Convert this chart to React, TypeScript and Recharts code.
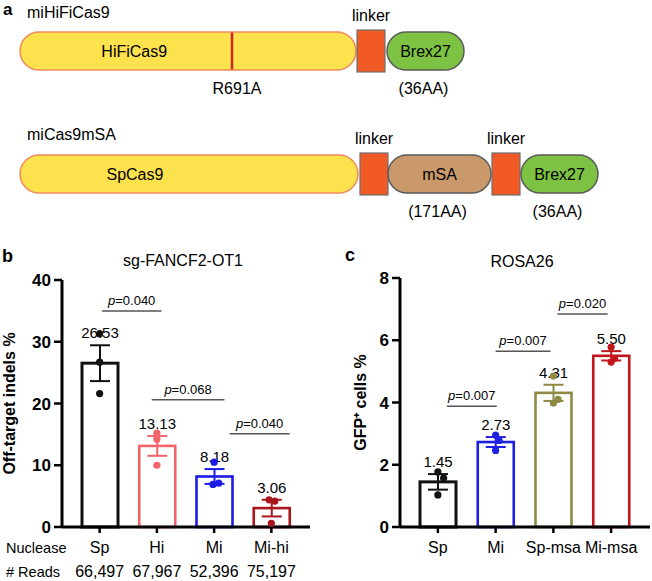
import React from "react";
import {
  BarChart,
  Bar,
  XAxis,
  YAxis,
  ComposedChart,
  Scatter,
  ReferenceLine,
} from "recharts";

const FONT = '"Liberation Sans", Arial, Helvetica, sans-serif';

// ---- panel a: constructs, schematic segment lengths stacked left to right
const segmentKeys = ["cas9", "gap1", "linker1", "msa", "gap2", "linker2", "gap3", "brex"];
const segmentKinds = ["cas9", "gap", "linker", "msa", "gap", "linker", "gap", "brex"];
const miHiFiLengths = [336, 1, 28, 0, 0, 0, 2, 77];
const miMsaLengths = [338, 2, 28, 103, 1, 28, 1, 77];
const miHiFiNames = ["HiFiCas9", "", "linker", "", "", "", "", "Brex27"];
const miMsaNames = ["SpCas9", "", "linker", "mSA", "", "linker", "", "Brex27"];
const miHiFiSizes = ["", "", "", "", "", "", "", "(36AA)"];
const miMsaSizes = ["", "", "", "(171AA)", "", "", "", "(36AA)"];
const hifiMutation = { label: "R691A", position: 212 };

// ---- panel b: sg-FANCF2-OT1 off-target indels
const nucleaseNames = ["Sp", "Hi", "Mi", "Mi-hi"];
const readCounts = ["66,497", "67,967", "52,396", "75,197"];
const offTargetMeans = [26.53, 13.13, 8.18, 3.06];
const offTargetSems = [2.9, 1.6, 1.2, 1.35];
const offTargetReplicates = [
  [31.3, 26.7, 21.6],
  [15.2, 14.2, 10.0],
  [10.5, 7.1, 6.9],
  [4.4, 4.2, 0.6],
];
const offTargetJitter = [
  [0, 0, 0],
  [0, 0, 0],
  [0, 0.08, -0.02],
  [-0.04, 0.06, 0],
];
const offTargetPValues = ["0.040", "0.068", "0.040"];
const offTargetPFrom = [0.54, 1.41, 2.77];
const offTargetPTo = [1.58, 2.68, 3.82];
const offTargetPHeight = [35.0, 20.6, 15.1];
const offTargetColors = ["#111111", "#F2646C", "#1C1CE6", "#A8161B"];

// ---- panel c: ROSA26 GFP+ cells
const rosaNames = ["Sp", "Mi", "Sp-msa", "Mi-msa"];
const gfpMeans = [1.45, 2.73, 4.31, 5.5];
const gfpSems = [0.25, 0.16, 0.26, 0.15];
const gfpReplicates = [
  [1.77, 1.57, 1.03],
  [2.95, 2.78, 2.46],
  [4.85, 4.1, 3.98],
  [5.78, 5.42, 5.3],
];
const gfpJitter = [
  [0, 0.1, 0],
  [0, 0.06, 0],
  [0, 0.08, 0],
  [0, 0.06, 0],
];
const gfpPValues = ["0.007", "0.007", "0.020"];
const gfpPFrom = [0.655, 1.5, 2.57];
const gfpPTo = [1.52, 2.45, 3.44];
const gfpPHeight = [3.88, 5.65, 6.84];
const gfpColors = ["#111111", "#2020E0", "#8E8A44", "#C2161C"];

const Segment = (props: any) => {
  const { x, y, width, height, kind, caption, note, length, mutation } = props;
  if (!width || width <= 0 || kind === "gap") return null;
  const cy = y + height / 2;
  const cx = x + width / 2;
  if (kind === "linker") {
    return (
      <g>
        <rect x={x} y={y - 2} width={width} height={height + 4} fill="#F15A24" stroke="#6D6E71" strokeWidth={1.2} />
        <text x={cx} y={cy - 30} textAnchor="middle" fontSize={16} fill="#000">
          {caption}
        </text>
      </g>
    );
  }
  const fill = kind === "cas9" ? "#FDE14D" : kind === "msa" ? "#C9996C" : "#7DC242";
  const stroke = kind === "cas9" ? "#EF8A5E" : "#5A5A5A";
  const textX = kind === "cas9" ? x + width * 0.34 : cx;
  let mark = null;
  if (mutation) {
    const mx = x + (mutation.position * width) / length;
    mark = (
      <g>
        <line x1={mx} x2={mx} y1={y + 0.5} y2={y + height - 0.5} stroke="#C1272D" strokeWidth={2.5} />
        <text x={mx + 5} y={cy + 43} textAnchor="middle" fontSize={16} fill="#000">
          {mutation.label}
        </text>
      </g>
    );
  }
  return (
    <g>
      <rect x={x} y={y} width={width} height={height} rx={height / 2} ry={height / 2} fill={fill} stroke={stroke} strokeWidth={1.5} />
      {mark}
      <text x={textX} y={cy + 5.7} textAnchor="middle" fontSize={16} fill="#000">
        {caption}
      </text>
      {note ? (
        <text x={cx - 2} y={cy + 43} textAnchor="middle" fontSize={16} fill="#000">
          {note}
        </text>
      ) : null}
    </g>
  );
};

const ConstructRow = ({ lengths, names, sizes, mutation }: any) => {
  const row: Record<string, any> = { row: "construct" };
  segmentKeys.forEach((k, i) => (row[k] = lengths[i]));
  return (
    <BarChart
      layout="vertical"
      width={652}
      height={100}
      data={[row]}
      margin={{ top: 0, right: 0, bottom: 0, left: 20 }}
      barSize={38}
    >
      <XAxis type="number" domain={[0, 632]} hide />
      <YAxis type="category" dataKey="row" hide />
      {segmentKeys.map((k, i) => (
        <Bar
          key={k}
          dataKey={k}
          stackId="c"
          isAnimationActive={false}
          shape={(p: any) => (
            <Segment
              {...p}
              kind={segmentKinds[i]}
              caption={names[i]}
              note={sizes[i]}
              length={lengths[i]}
              mutation={i === 0 ? mutation : undefined}
            />
          )}
        />
      ))}
    </BarChart>
  );
};

const MeanBar = (props: any) => {
  const { x, y, width, height, index, payload, colors } = props;
  const color = colors[index];
  const k = height / payload.mean;
  const top = y - payload.sem * k;
  const bot = y + payload.sem * k;
  const cx = x + width / 2;
  return (
    <g>
      <rect x={x} y={y} width={width} height={height} fill="none" stroke={color} strokeWidth={index === 0 ? 3 : 2.6} />
      <line x1={cx} x2={cx} y1={top} y2={bot} stroke={color} strokeWidth={2} />
      <line x1={cx - 10} x2={cx + 10} y1={top} y2={top} stroke={color} strokeWidth={2} />
      <line x1={cx - 10} x2={cx + 10} y1={bot} y2={bot} stroke={color} strokeWidth={2} />
      <text x={cx} y={top - 7} textAnchor="middle" fontSize={15} fill="#000">
        {payload.mean.toFixed(2)}
      </text>
    </g>
  );
};

const PLabel = (props: any) => {
  const vb = props.viewBox || {};
  if (vb.x == null) return null;
  return (
    <text x={vb.x + (vb.width || 0) / 2} y={vb.y - 6} textAnchor="middle" fontSize={13} fill="#000">
      <tspan fontStyle="italic">p</tspan>={props.text}
    </text>
  );
};

const GroupTick = (props: any) => {
  const { x, y, payload, extra } = props;
  return (
    <g>
      <text x={x} y={y + 18} textAnchor="middle" fontSize={16} fill="#000">
        {payload.value}
      </text>
      {extra ? (
        <text x={x} y={y + 42} textAnchor="middle" fontSize={16} fill="#000">
          {extra[payload.index]}
        </text>
      ) : null}
    </g>
  );
};

const DotGlyph = (props: any) => {
  const { cx, cy, payload, colors } = props;
  if (cx == null || cy == null) return null;
  return <circle cx={cx} cy={cy} r={3.6} fill={colors[payload.group]} />;
};

const GroupPanel = (props: any) => {
  const {
    names, means, sems, reps, jitter, pValues, pFrom, pTo, pHeight, colors,
    width, yWidth, yMax, yTicks, yLabel, labelOffset, marginTop, marginRight, extra,
  } = props;
  const data = names.map((name: string, i: number) => ({ name, mean: means[i], sem: sems[i] }));
  const dots: any[] = [];
  reps.forEach((vals: number[], g: number) =>
    vals.forEach((v, j) => dots.push({ x: g + 0.5 + jitter[g][j], y: v, group: g }))
  );
  const axisPad = { left: 9, right: 10 };
  return (
    <ComposedChart
      width={width}
      height={331}
      data={data}
      margin={{ top: marginTop, right: marginRight, bottom: 0, left: 0 }}
    >
      <XAxis
        xAxisId="cat"
        dataKey="name"
        height={54}
        padding={axisPad}
        interval={0}
        tickSize={6}
        tickMargin={2}
        axisLine={{ stroke: "#000", strokeWidth: 3 }}
        tickLine={{ stroke: "#000", strokeWidth: 2.5 }}
        tick={<GroupTick extra={extra} />}
      />
      <XAxis xAxisId="num" type="number" dataKey="x" domain={[0, 4]} hide padding={axisPad} allowDataOverflow />
      <YAxis
        domain={[0, yMax]}
        ticks={yTicks}
        width={yWidth}
        tickSize={8}
        tickMargin={3}
        axisLine={{ stroke: "#000", strokeWidth: 3 }}
        tickLine={{ stroke: "#000", strokeWidth: 2.5 }}
        tick={{ fill: "#000", fontSize: 17, fontWeight: 700 }}
        label={{
          value: yLabel,
          angle: -90,
          position: "insideLeft",
          offset: labelOffset,
          style: { textAnchor: "middle", fontWeight: 700, fontSize: 16, fill: "#000" },
        }}
      />
      <Bar
        xAxisId="cat"
        dataKey="mean"
        barSize={36}
        isAnimationActive={false}
        shape={(p: any) => <MeanBar {...p} colors={colors} />}
      />
      <Scatter
        xAxisId="num"
        data={dots}
        dataKey="y"
        isAnimationActive={false}
        shape={(p: any) => <DotGlyph {...p} colors={colors} />}
      />
      {pValues.map((pv: string, i: number) => (
        <ReferenceLine
          key={i}
          xAxisId="num"
          segment={[
            { x: pFrom[i], y: pHeight[i] },
            { x: pTo[i], y: pHeight[i] },
          ]}
          stroke="#555"
          strokeWidth={1.5}
          ifOverflow="visible"
          label={(lp: any) => <PLabel {...lp} text={pv} />}
        />
      ))}
    </ComposedChart>
  );
};

const App = () => (
  <div
    style={{
      position: "absolute",
      left: 0,
      top: 0,
      width: 652,
      height: 581,
      background: "#fff",
      fontFamily: FONT,
      overflow: "hidden",
    }}
  >
    <div style={{ position: "absolute", left: 0, top: 1 }}>
      <ConstructRow lengths={miHiFiLengths} names={miHiFiNames} sizes={miHiFiSizes} mutation={hifiMutation} />
    </div>
    <div style={{ position: "absolute", left: 0, top: 124 }}>
      <ConstructRow lengths={miMsaLengths} names={miMsaNames} sizes={miMsaSizes} />
    </div>
    <div style={{ position: "absolute", left: 0, top: 250 }}>
      <GroupPanel
        names={nucleaseNames}
        means={offTargetMeans}
        sems={offTargetSems}
        reps={offTargetReplicates}
        jitter={offTargetJitter}
        pValues={offTargetPValues}
        pFrom={offTargetPFrom}
        pTo={offTargetPTo}
        pHeight={offTargetPHeight}
        colors={offTargetColors}
        width={330}
        yWidth={62}
        yMax={40}
        yTicks={[0, 10, 20, 30, 40]}
        yLabel="Off-target indels %"
        labelOffset={9}
        marginTop={30}
        marginRight={20}
        extra={readCounts}
      />
    </div>
    <div style={{ position: "absolute", left: 330, top: 250 }}>
      <GroupPanel
        names={rosaNames}
        means={gfpMeans}
        sems={gfpSems}
        reps={gfpReplicates}
        jitter={gfpJitter}
        pValues={gfpPValues}
        pFrom={gfpPFrom}
        pTo={gfpPTo}
        pHeight={gfpPHeight}
        colors={gfpColors}
        width={322}
        yWidth={70}
        yMax={8}
        yTicks={[0, 2, 4, 6, 8]}
        yLabel="GFP⁺ cells %"
        labelOffset={30}
        marginTop={28}
        marginRight={2}
      />
    </div>
    <svg
      width={652}
      height={581}
      style={{ position: "absolute", left: 0, top: 0, pointerEvents: "none" }}
    >
      <text x={3} y={15} fontSize={17} fontWeight={700}>a</text>
      <text x={27} y={18} fontSize={16}>miHiFiCas9</text>
      <text x={27} y={140} fontSize={16}>miCas9mSA</text>
      <text x={2} y={262} fontSize={18} fontWeight={700}>b</text>
      <text x={183} y={266} fontSize={16} textAnchor="middle">sg-FANCF2-OT1</text>
      <text x={345} y={261} fontSize={18} fontWeight={700}>c</text>
      <text x={522} y={267} fontSize={16} textAnchor="middle">ROSA26</text>
      <text x={6} y={553} fontSize={14.5}>Nuclease</text>
      <text x={6} y={577} fontSize={14.5}># Reads</text>
    </svg>
  </div>
);

export default App;
